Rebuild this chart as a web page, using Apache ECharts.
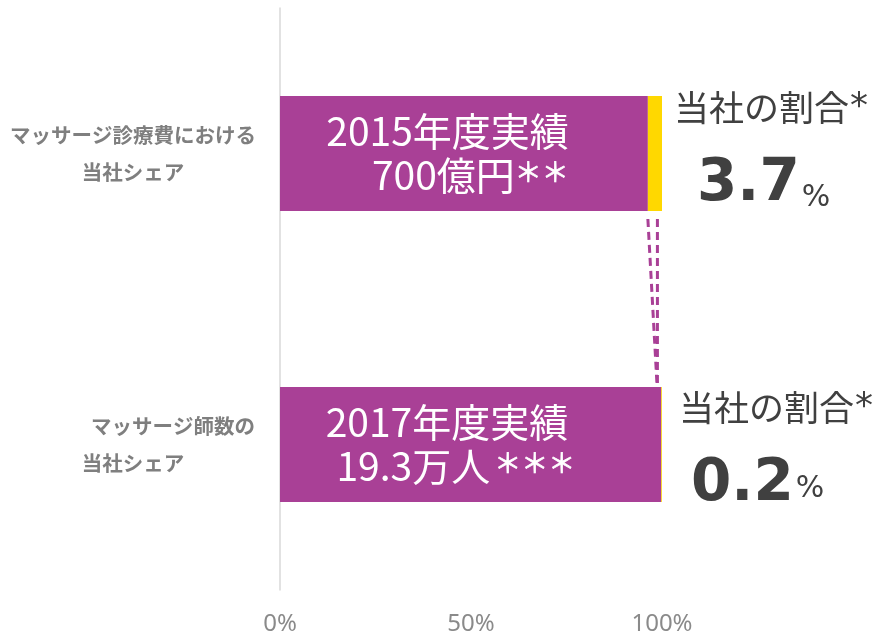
<!DOCTYPE html>
<html>
<head>
<meta charset="utf-8">
<script src="https://cdn.jsdelivr.net/npm/echarts@6/dist/echarts.min.js"></script>
<style>
  html, body { margin: 0; padding: 0; background: #fff; }
  #chart { width: 880px; height: 636px; }
</style>
</head>
<body>
<div id="chart"></div>
<script>
    // categories, top to bottom
    const categories = ['マッサージ診療費における\n当社シェア', 'マッサージ師数の\n当社シェア'];
    const otherShare = [96.3, 99.8];
    const ownShare = [3.7, 0.2];
    const barTitles = ['2015年度実績', '2017年度実績'];
    const barAmounts = ['700億円', '19.3万人'];
    const barMarks = ['＊＊', '＊＊＊'];
    const shareTitle = '当社の割合';
    const xTicks = [0, 50, 100];
    // connector lines: [value at top bar, value at bottom bar]
    const connectors = [[96.3, 98.7], [98.8, 98.8]];

    const PURPLE = '#A94096';
    const YELLOW = '#FFD800';
    const DARK = '#404040';
    const CJK = '"Noto Sans CJK JP", "Noto Sans", sans-serif';
    const LATIN = '"DejaVu Sans", sans-serif';
    const BAR_RATIO = 0.395;

    // per-row tweaks for the right-hand share labels
    const shareLabelStyle = [
        { distance: 12, offset: 23, l1: 63, l2: 91 },
        { distance: 17, offset: 12, l1: 80, l2: 74 },
    ];
    const barLabelDistance = [79, 86];
    const barTitlePad = [0, 7];
    const markGap = [0, 4];

    function buildShareLabel(i) {
        const s = shareLabelStyle[i];
        return {
            show: true,
            position: 'right',
            distance: s.distance,
            align: 'left',
            formatter: () => `{t|${shareTitle}}{s|*}\n{n|${ownShare[i].toFixed(1)}}{p|%}`,
            rich: {
                t: { fontFamily: CJK, fontSize: 35, color: DARK, lineHeight: s.l1 },
                s: { fontFamily: LATIN, fontSize: 36, color: DARK, lineHeight: s.l1, padding: [0, 0, 0, 1] },
                n: { fontFamily: LATIN, fontWeight: 'bold', fontSize: 58,
                     color: DARK, lineHeight: s.l2, padding: [0, 0, 0, s.offset] },
                p: { fontFamily: LATIN, fontSize: 30, color: DARK,
                     lineHeight: s.l2, verticalAlign: 'bottom', padding: [0, 0, 17, 2] },
            },
        };
    }

    function buildBarLabel(i) {
        return {
            show: true,
            position: 'insideRight',
            distance: barLabelDistance[i],
            align: 'right',
            formatter: () => `{h|${barTitles[i]}}\n{a|${barAmounts[i]}}{m|${barMarks[i]}}`,
            rich: {
                h: { fontFamily: CJK, fontSize: 39, lineHeight: 44, color: '#fff',
                     padding: [0, barTitlePad[i], 0, 0] },
                a: { fontFamily: CJK, fontSize: 39, lineHeight: 44, color: '#fff' },
                m: { fontFamily: CJK, fontSize: 27, lineHeight: 44, color: '#fff',
                     textBorderColor: '#fff', textBorderWidth: 0.7,
                     padding: [0, 0, 8, markGap[i]] },
            },
        };
    }

    const chart = echarts.init(document.getElementById('chart'));
    chart.setOption({
        animation: false,
        grid: { left: 280, right: 218, top: 8, bottom: 46, containLabel: false },
        xAxis: {
            type: 'value',
            min: xTicks[0],
            max: xTicks[xTicks.length - 1],
            interval: xTicks[1] - xTicks[0],
            axisLine: { show: false },
            axisTick: { show: false },
            splitLine: { show: false },
            axisLabel: {
                formatter: '{value}%',
                margin: 22,
                fontFamily: '"Noto Sans", sans-serif',
                fontSize: 24,
                color: '#8A8A8A',
            },
        },
        yAxis: {
            type: 'category',
            inverse: true,
            data: categories,
            axisLine: { show: true, lineStyle: { color: '#D9D9D9', width: 1.5 } },
            axisTick: { show: false },
            axisLabel: {
                align: 'center',
                margin: 147,
                fontFamily: CJK,
                fontWeight: 'bold',
                fontSize: 20.5,
                lineHeight: 37,
                color: '#7F7F7F',
                formatter: (val, idx) => {
                    const lines = val.split('\n');
                    return idx === 1
                        ? `{s|${lines[0]}}\n${lines[1]}`
                        : val;
                },
                rich: {
                    s: { fontFamily: CJK, fontWeight: 'bold', fontSize: 20.5, lineHeight: 37,
                         color: '#7F7F7F', padding: [0, 0, 0, 80] },
                },
            },
        },
        series: [
            {
                name: 'other',
                type: 'bar',
                stack: 'total',
                barWidth: (BAR_RATIO * 100) + '%',
                itemStyle: { color: PURPLE },
                data: otherShare.map((v, i) => ({ value: v, label: buildBarLabel(i) })),
            },
            {
                name: 'own',
                type: 'bar',
                stack: 'total',
                itemStyle: { color: YELLOW },
                data: ownShare.map((v, i) => ({ value: v, label: buildShareLabel(i) })),
            },
            {
                name: 'connector',
                type: 'custom',
                silent: true,
                data: connectors.map((c) => [c[0], 0, c[1]]),
                encode: { x: 0, y: 1 },
                renderItem(params, api) {
                    const p0 = api.coord([api.value(0), 0]);
                    const p1 = api.coord([api.value(2), 1]);
                    const half = api.size([0, 1])[1] * BAR_RATIO / 2;
                    return {
                        type: 'line',
                        shape: { x1: p0[0], y1: p0[1] + half + 8, x2: p1[0], y2: p1[1] - half - 2 },
                        style: { stroke: PURPLE, lineWidth: 3, lineDash: [8, 5], fill: null },
                    };
                },
            },
        ],
    });
</script>
</body>
</html>
